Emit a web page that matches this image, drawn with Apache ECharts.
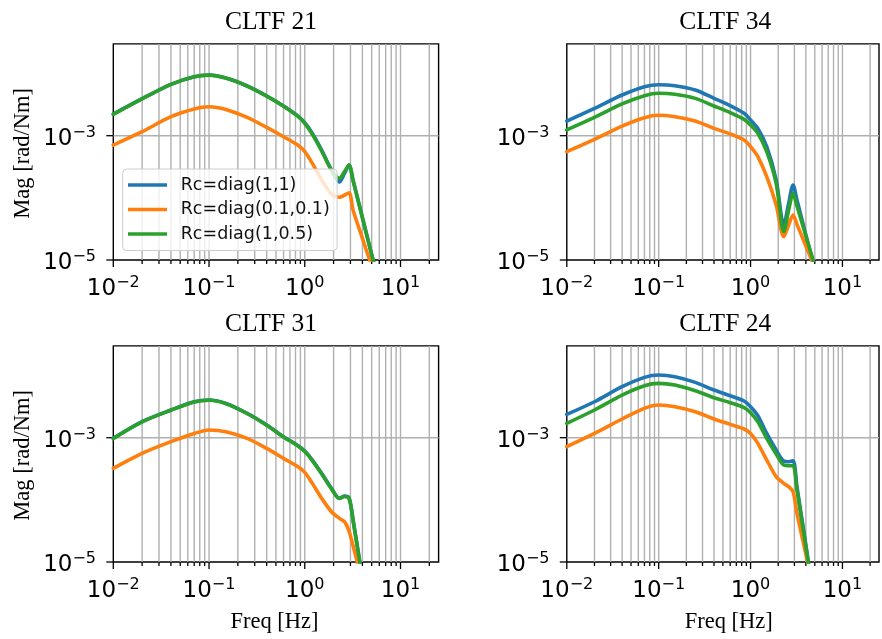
<!DOCTYPE html>
<html>
<head>
<meta charset="utf-8">
<script src="https://cdn.jsdelivr.net/npm/echarts@6/dist/echarts.min.js"></script>
<style>
html,body{margin:0;padding:0;background:#fff;}
#chart{width:882px;height:639px;}
</style>
</head>
<body>
<div id="chart"></div>
<script>
// ---------- data ----------
const freq = [0.01, 0.02, 0.04, 0.07, 0.1, 0.15, 0.25, 0.4, 0.6, 0.85, 1.0, 1.2, 1.5, 1.9, 2.3, 2.6, 2.9, 3.2, 4, 5, 6];

const seriesNames = ['Rc=diag(1,1)', 'Rc=diag(0.1,0.1)', 'Rc=diag(1,0.5)'];
const seriesColors = ['#1f77b4', '#ff7f0e', '#2ca02c'];
const panelTitles = ['CLTF 21', 'CLTF 34', 'CLTF 31', 'CLTF 24'];

// CLTF 21
const cltf21_rc11   = [2.23e-3, 3.94e-3, 6.71e-3, 8.91e-3, 9.48e-3, 8.47e-3, 6.31e-3, 4.36e-3, 3.01e-3, 2.07e-3, 1.62e-3, 1.09e-3, 5.89e-4, 2.81e-4, 1.80e-4, 2.48e-4, 3.38e-4, 1.89e-4, 4.80e-5, 1.22e-5, 4.16e-6];
const cltf21_rc0101 = [7.08e-4, 1.16e-3, 2.02e-3, 2.69e-3, 2.93e-3, 2.65e-3, 1.97e-3, 1.36e-3, 9.64e-4, 7.00e-4, 5.53e-4, 3.59e-4, 1.94e-4, 1.15e-4, 1.02e-4, 1.11e-4, 1.21e-4, 6.30e-5, 2.23e-5, 8.0e-6, 3.59e-6];
const cltf21_rc105  = [2.21e-3, 3.92e-3, 6.69e-3, 8.89e-3, 9.45e-3, 8.45e-3, 6.29e-3, 4.34e-3, 2.99e-3, 2.04e-3, 1.58e-3, 1.05e-3, 5.67e-4, 2.81e-4, 2.06e-4, 2.64e-4, 3.38e-4, 1.89e-4, 4.80e-5, 1.22e-5, 4.16e-6];

// CLTF 34
const cltf34_rc11   = [1.72e-3, 2.75e-3, 4.52e-3, 6.15e-3, 6.62e-3, 6.38e-3, 5.43e-3, 3.99e-3, 3.04e-3, 2.29e-3, 1.79e-3, 1.31e-3, 6.66e-4, 1.94e-4, 3.66e-5, 8.16e-5, 1.61e-4, 9.23e-5, 2.52e-5, 6.90e-6, 2.51e-6];
const cltf34_rc0101 = [5.53e-4, 8.74e-4, 1.43e-3, 1.95e-3, 2.13e-3, 2.02e-3, 1.72e-3, 1.31e-3, 1.07e-3, 8.53e-4, 6.66e-4, 4.60e-4, 2.19e-4, 7.67e-5, 2.37e-5, 3.66e-5, 5.30e-5, 3.75e-5, 1.68e-5, 7.53e-6, 3.96e-6];
const cltf34_rc105  = [1.24e-3, 1.97e-3, 3.24e-3, 4.40e-3, 4.81e-3, 4.63e-3, 3.99e-3, 3.01e-3, 2.35e-3, 1.83e-3, 1.49e-3, 1.09e-3, 5.53e-4, 1.71e-4, 2.86e-5, 6.37e-5, 1.18e-4, 7.39e-5, 2.43e-5, 8.11e-6, 3.37e-6];

// CLTF 31
const cltf31_rc11   = [9.75e-4, 1.81e-3, 2.79e-3, 3.79e-3, 4.04e-3, 3.56e-3, 2.46e-3, 1.60e-3, 1.04e-3, 7.43e-4, 6.10e-4, 4.37e-4, 2.67e-4, 1.53e-4, 1.06e-4, 1.15e-4, 1.08e-4, 4.68e-5, 5.45e-6, 6.7e-7, 3.0e-7];
const cltf31_rc0101 = [3.21e-4, 5.60e-4, 8.63e-4, 1.17e-3, 1.33e-3, 1.25e-3, 9.75e-4, 6.73e-4, 4.65e-4, 3.41e-4, 2.77e-4, 1.84e-4, 1.06e-4, 6.45e-5, 5.04e-5, 4.45e-5, 3.15e-5, 1.81e-5, 4.82e-6, 1.30e-6, 5.0e-7];
const cltf31_rc105  = [9.70e-4, 1.80e-3, 2.77e-3, 3.76e-3, 4.01e-3, 3.54e-3, 2.45e-3, 1.59e-3, 1.03e-3, 7.33e-4, 5.98e-4, 4.28e-4, 2.62e-4, 1.51e-4, 1.05e-4, 1.13e-4, 1.07e-4, 4.66e-5, 5.45e-6, 6.7e-7, 3.0e-7];

// CLTF 24
const cltf24_rc11   = [2.37e-3, 3.79e-3, 6.62e-3, 9.35e-3, 1.02e-2, 9.58e-3, 7.76e-3, 5.85e-3, 4.74e-3, 3.89e-3, 3.16e-3, 2.26e-3, 1.17e-3, 6.33e-4, 4.21e-4, 4.11e-4, 4.26e-4, 1.63e-4, 1.87e-5, 2.16e-6, 5.0e-7];
const cltf24_rc0101 = [7.16e-4, 1.17e-3, 2.00e-3, 2.97e-3, 3.36e-3, 3.16e-3, 2.62e-3, 2.00e-3, 1.64e-3, 1.38e-3, 1.17e-3, 8.11e-4, 4.37e-4, 2.36e-4, 1.84e-4, 1.63e-4, 1.35e-4, 6.06e-5, 1.33e-5, 2.90e-6, 8.0e-7];
const cltf24_rc105  = [1.70e-3, 2.79e-3, 4.86e-3, 6.87e-3, 7.48e-3, 7.03e-3, 5.70e-3, 4.40e-3, 3.66e-3, 3.04e-3, 2.52e-3, 1.81e-3, 9.75e-4, 5.46e-4, 3.63e-4, 3.54e-4, 3.54e-4, 1.44e-4, 1.76e-5, 2.03e-6, 5.0e-7];

// axis ticks / ranges
const xRange = [0.01, 25];
const yRange = [1e-5, 0.03];
const xMajorTicks = [0.01, 0.1, 1, 10];
const xMinorTicks = [0.02, 0.03, 0.04, 0.05, 0.06, 0.07, 0.08, 0.09,
                     0.2, 0.3, 0.4, 0.5, 0.6, 0.7, 0.8, 0.9,
                     2, 3, 4, 5, 6, 7, 8, 9, 20];
const yMajorTicks = [1e-5, 1e-3];
const xAxisName = 'Freq [Hz]';
const yAxisName = 'Mag [rad/Nm]';

const panelData = [
  [cltf21_rc11, cltf21_rc0101, cltf21_rc105],
  [cltf34_rc11, cltf34_rc0101, cltf34_rc105],
  [cltf31_rc11, cltf31_rc0101, cltf31_rc105],
  [cltf24_rc11, cltf24_rc0101, cltf24_rc105]
];

// ---------- layout ----------
const GW = 325.3, GH = 216.1;
const grids = [
  {left: 113.3, top: 43.9},
  {left: 566.8, top: 43.9},
  {left: 113.3, top: 345.9},
  {left: 566.8, top: 345.9}
];
const titleX = [271, 725.3, 271, 725.3];

function powLabel(v, onlyOdd) {
  const e = Math.log10(v);
  const r = Math.round(e);
  if (Math.abs(e - r) > 1e-6) return '';
  if (onlyOdd && Math.abs(r % 2) !== 1) return '';
  const s = (r < 0 ? '\u2212' : '') + Math.abs(r);
  return '{b|10}{s|' + s + '}';
}
const richStyle = {
  b: {fontFamily: 'DejaVu Sans', fontSize: 23, lineHeight: 26, color: '#000', verticalAlign: 'bottom'},
  s: {fontFamily: 'DejaVu Sans', fontSize: 16, lineHeight: 15, color: '#000', verticalAlign: 'top'}
};

const tickItems = []
  .concat(xMajorTicks.map(v => [v, yRange[0], 0]))
  .concat(xMinorTicks.map(v => [v, yRange[0], 1]))
  .concat(yMajorTicks.map(v => [xRange[0], v, 2]));

function renderTicks(params, api) {
  const kind = api.value(2);
  const xv = api.value(0), yv = api.value(1);
  const p = api.coord([xv, yv]);
  const ch = [];
  const gridStyle = {stroke: '#b0b0b0', lineWidth: 1.4};
  const tickStyle = {stroke: '#000', lineWidth: 1.3};
  if (kind === 0 || kind === 1) {
    if (xv !== xRange[0]) {
      const t = api.coord([xv, yRange[1]]);
      ch.push({type: 'line', shape: {x1: p[0], y1: p[1], x2: t[0], y2: t[1]}, style: gridStyle});
    }
    const len = kind === 0 ? 7 : 4;
    ch.push({type: 'line', z2: 5, shape: {x1: p[0], y1: p[1], x2: p[0], y2: p[1] + len}, style: tickStyle});
  } else {
    if (yv !== yRange[0]) {
      const r = api.coord([xRange[1], yv]);
      ch.push({type: 'line', shape: {x1: p[0], y1: p[1], x2: r[0], y2: r[1]}, style: gridStyle});
    }
    ch.push({type: 'line', z2: 5, shape: {x1: p[0] - 7, y1: p[1], x2: p[0], y2: p[1]}, style: tickStyle});
  }
  return {type: 'group', children: ch};
}

const option = {
  backgroundColor: '#ffffff',
  animation: false,
  grid: grids.map(g => ({
    left: g.left, top: g.top, width: GW, height: GH,
    show: true, borderColor: '#000', borderWidth: 1.4, backgroundColor: 'transparent',
    containLabel: false
  })),
  xAxis: grids.map((g, i) => ({
    type: 'log', logBase: 10, gridIndex: i, min: xRange[0], max: xRange[1],
    axisLine: {show: false}, axisTick: {show: false}, splitLine: {show: false},
    axisLabel: {show: true, margin: 15, formatter: v => powLabel(v, false), rich: richStyle}
  })),
  yAxis: grids.map((g, i) => ({
    type: 'log', logBase: 10, gridIndex: i, min: yRange[0], max: yRange[1],
    axisLine: {show: false}, axisTick: {show: false}, splitLine: {show: false},
    axisLabel: {show: true, margin: 17.3, padding: [3.4, 0, 0, 0], formatter: v => powLabel(v, true), rich: richStyle}
  })),
  legend: {
    data: seriesNames, orient: 'vertical', left: 122.7, top: 169,
    padding: [6, 7.3, 6.5, 5.3], itemGap: 4.5, itemWidth: 39, itemHeight: 3.6,
    icon: 'rect', selectedMode: false,
    backgroundColor: 'rgba(255,255,255,0.8)', borderColor: '#cccccc', borderWidth: 1, borderRadius: 4,
    itemStyle: {borderWidth: 0},
    textStyle: {fontFamily: 'DejaVu Sans', fontSize: 17.5, color: '#111', lineHeight: 20, padding: [0, 0, 0, 8.7]}
  },
  graphic: [],
  series: []
};

// ticks + grid lines per panel
grids.forEach((g, i) => {
  option.series.push({
    type: 'custom', xAxisIndex: i, yAxisIndex: i, z: 1, silent: true, clip: false,
    renderItem: renderTicks, data: tickItems, animation: false
  });
});

// curves
panelData.forEach((arrs, i) => {
  arrs.forEach((vals, k) => {
    option.series.push({
      type: 'line', name: seriesNames[k], xAxisIndex: i, yAxisIndex: i,
      data: freq.map((f, j) => [f, vals[j]]),
      showSymbol: false, symbol: 'none', smooth: 0.3, clip: true, z: 3, silent: true,
      lineStyle: {width: 3.6, color: seriesColors[k], join: 'round', cap: 'round'},
      itemStyle: {color: seriesColors[k]},
      emphasis: {disabled: true}, animation: false
    });
  });
});

// titles and axis names
grids.forEach((g, i) => {
  option.graphic.push({
    type: 'text', x: titleX[i], y: g.top - 21.5, silent: true,
    style: {text: panelTitles[i], font: '25.5px "Liberation Serif"', fill: '#000', textAlign: 'center', textVerticalAlign: 'middle'}
  });
  if (i % 2 === 0) {
    option.graphic.push({
      type: 'text', x: 23.3, y: g.top + 109.5, rotation: Math.PI / 2, silent: true,
      style: {text: yAxisName, font: '22.5px "Liberation Serif"', fill: '#000', textAlign: 'center', textVerticalAlign: 'middle'}
    });
  }
  if (i >= 2) {
    option.graphic.push({
      type: 'text', x: titleX[i] + 3.5, y: 621.7, silent: true,
      style: {text: xAxisName, font: '22.5px "Liberation Serif"', fill: '#000', textAlign: 'center', textVerticalAlign: 'middle'}
    });
  }
});

const chart = echarts.init(document.getElementById('chart'), null, {renderer: 'canvas'});
chart.setOption(option);
</script>
</body>
</html>
